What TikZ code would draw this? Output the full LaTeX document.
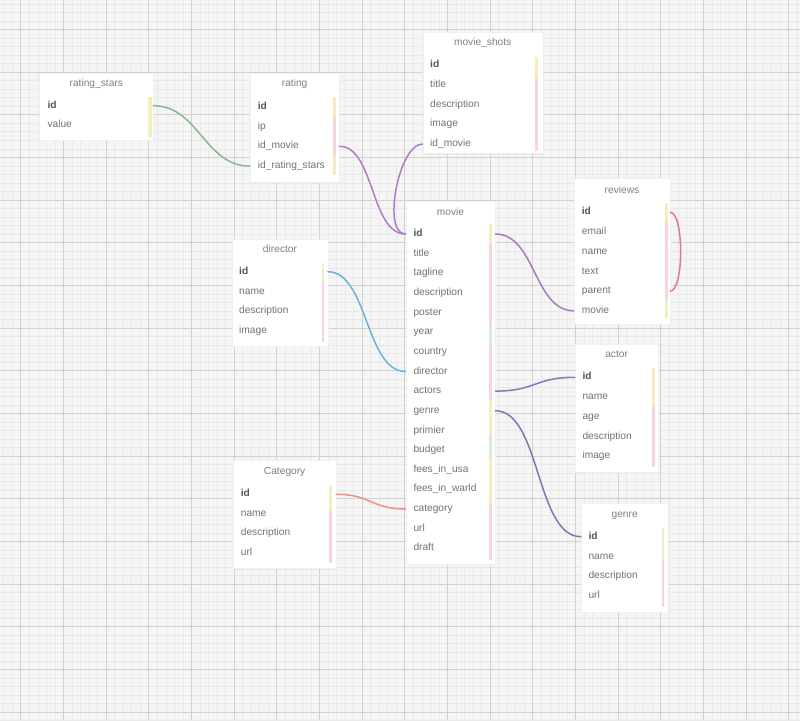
\documentclass[tikz,border=0pt]{standalone}
\usepackage{fontspec}
\setmainfont{Liberation Sans}
\usetikzlibrary{shadows}
\definecolor{bgc}{HTML}{F5F5F5}
\definecolor{minorc}{HTML}{E9E9E9}
\definecolor{majorc}{HTML}{D2D2D2}
\definecolor{txtc}{HTML}{727272}
\definecolor{idc}{HTML}{555555}
\definecolor{ttlc}{HTML}{808080}
\definecolor{barY}{HTML}{F3EDC0}
\definecolor{barP}{HTML}{F6D6DB}
\definecolor{barG}{HTML}{D5EEDA}
\definecolor{cGreen}{HTML}{86B894}
\definecolor{cPurple}{HTML}{B07CC8}
\definecolor{cPurple2}{HTML}{A77BC0}
\definecolor{cBlue}{HTML}{6FB1D9}
\definecolor{cSlate}{HTML}{8677BB}
\definecolor{cSlate2}{HTML}{7A78B8}
\definecolor{cSalmon}{HTML}{EC8F86}
\definecolor{cRed}{HTML}{E07A8E}
\tikzset{
  tbox/.style={draw=black!6, fill=white, line width=0.3pt, inner sep=0pt,
    drop shadow={opacity=0.10, shadow xshift=1pt, shadow yshift=-1.2pt}},
  ttl/.style={text=ttlc, font=\fontsize{10.2}{12}\selectfont, inner sep=0pt, text height=7.5pt, text depth=2.2pt},
  fld/.style={text=txtc, font=\fontsize{10.2}{12}\selectfont, anchor=west, inner sep=0pt, text height=7.5pt, text depth=2.2pt},
  conn/.style={line width=1.5pt, line cap=round},
  minorln/.style={draw=minorc, line width=0.4pt},
  majorln/.style={draw=majorc, line width=0.8pt}
}
% name, L, T, R, B, title, titleY
\newcommand\dbbox[7]{%
  \node[tbox, minimum width={#4-#2}, minimum height={#5-#3}] (#1) at ({(#2+#4)/2},{(#3+#5)/2}) {};
  \node[ttl] (#1-title) at ({(#2+#4)/2},#7) {#6};
}
% name, textX, row0Y, pitch, rows
\newcommand\dbrows[5]{%
  \foreach \t [count=\i from 0] in {#5} {\node[fld] (#1-\i) at (#2,{#3+\i*#4}) {\t};}
}
% L, R, y1, y2, colour
\newcommand\dbseg[5]{\fill[#5] (#1,#3) rectangle (#2,#4);}
\newcommand\idt{\textcolor{idc}{\textbf{id}}}
\begin{document}
\begin{tikzpicture}[x=1pt,y=-1pt]
\useasboundingbox (0,0) rectangle (800,720);
\fill[bgc] (0,0) rectangle (800,720);
\foreach \k in {0,...,93} {
  \draw[minorln] ({3.63+\k*8.533},0) -- ++(0,720);
}
\foreach \k in {0,...,84} {
  \draw[minorln] (0,{3.7+\k*8.533}) -- ++(800,0);
}
\foreach \k in {0,...,18} {
  \draw[majorln] ({20.7+\k*42.67},0) -- ++(0,720);
}
\foreach \k in {0,...,16} {
  \draw[majorln] (0,{29.3+\k*42.67}) -- ++(800,0);
}

% ---------- tables ----------
\dbbox{ratingstars}{39.3}{72.7}{153.3}{140}{rating\_stars}{84}
\dbseg{148.3}{151.5}{96.7}{136.7}{barY}
\dbrows{ratingstars}{47.3}{105.7}{19.5}{\idt,value}

\dbbox{rating}{250}{73.3}{339.3}{181.7}{rating}{84.3}
\dbseg{333}{336}{96.7}{175}{barP}
\dbseg{333}{336}{96.7}{116.5}{barY}
\dbseg{333}{336}{156}{175}{barY}
\dbrows{rating}{257.7}{106.7}{19.8}{\idt,ip,id\_movie,id\_rating\_stars}

\dbbox{movieshots}{422.7}{31.7}{542.7}{153.3}{movie\_shots}{43.3}
\dbseg{535}{537.5}{56.7}{151}{barP}
\dbseg{535}{537.5}{56.7}{78}{barY}
\dbrows{movieshots}{430}{65}{19.75}{\idt,title,description,image,id\_movie}

\dbbox{movie}{405.7}{201}{495.3}{564}{movie}{212.7}
\dbseg{489}{491.7}{224}{560}{barP}
\dbseg{489}{491.7}{224}{244}{barY}
\dbseg{489}{491.7}{323}{343}{barG}
\dbseg{489}{491.7}{400}{435}{barY}
\dbseg{489}{491.7}{440}{455}{barG}
\dbseg{489}{491.7}{458}{503}{barY}
\dbrows{movie}{413.3}{234}{19.64}{\idt,title,tagline,description,poster,year,country,director,actors,genre,primier,budget,fees\_in\_usa,fees\_in\_warld,category,url,draft}

\dbbox{director}{232.3}{239}{327.7}{346}{director}{250}
\dbseg{321.5}{323.8}{263}{341.7}{barP}
\dbseg{321.5}{323.8}{263}{281.5}{barY}
\dbrows{director}{239}{271.7}{19.8}{\idt,name,description,image}

\dbbox{reviews}{574}{178.3}{670}{324}{reviews}{190.7}
\dbseg{665}{668}{203}{318}{barP}
\dbseg{665}{668}{203}{222}{barY}
\dbseg{665}{668}{300}{318}{barY}
\dbrows{reviews}{581.7}{212.3}{19.7}{\idt,email,name,text,parent,movie}

\dbbox{actor}{575}{344}{658.3}{471.7}{actor}{355}
\dbseg{652.3}{655}{368}{466.7}{barP}
\dbseg{652.3}{655}{368}{406}{barY}
\dbrows{actor}{582.3}{377.3}{19.7}{\idt,name,age,description,image}

\dbbox{genre}{581}{503.3}{668.3}{612}{genre}{515}
\dbseg{661.7}{664}{528}{606.7}{barP}
\dbseg{661.7}{664}{528}{560}{barY}
\dbrows{genre}{588.3}{536.7}{19.8}{\idt,name,description,url}

\dbbox{category}{233.3}{460}{336}{568.3}{Category}{471.7}
\dbseg{329.3}{332}{486}{562.7}{barP}
\dbseg{329.3}{332}{486}{510}{barY}
\dbrows{category}{240.7}{494.3}{19.5}{\idt,name,description,url}

% ---------- connectors ----------
\draw[conn, cGreen] (ratingstars.east |- ratingstars-0) .. controls +(45,0) and +(-45,0) .. (rating.west |- rating-3);
\draw[conn, cPurple] (rating.east |- rating-2) .. controls +(35,0) and +(-35,0) .. (movie.west |- movie-0);
\draw[conn, cPurple] (movieshots.west |- movieshots-4) .. controls +(-24,0) and +(-24,0) .. (movie.west |- movie-0);
\draw[conn, cPurple2] (movie.east |- movie-0) .. controls +(40,0) and +(-40,0) .. (reviews.west |- reviews-5);
\draw[conn, cBlue] (director.east |- director-0) .. controls +(40,0) and +(-40,0) .. (movie.west |- movie-7);
\draw[conn, cSlate] (movie.east |- movie-8) .. controls +(40,0) and +(-40,0) .. (actor.west |- actor-0);
\draw[conn, cSlate2] (movie.east |- movie-9) .. controls +(45,0) and +(-45,0) .. (genre.west |- genre-0);
\draw[conn, cSalmon] (category.east |- category-0) .. controls +(35,0) and +(-35,0) .. (movie.west |- movie-14);
\draw[conn, cRed] (reviews.east |- reviews-0) .. controls +(14,0) and +(14,0) .. (reviews.east |- reviews-4);
\end{tikzpicture}
\end{document}
